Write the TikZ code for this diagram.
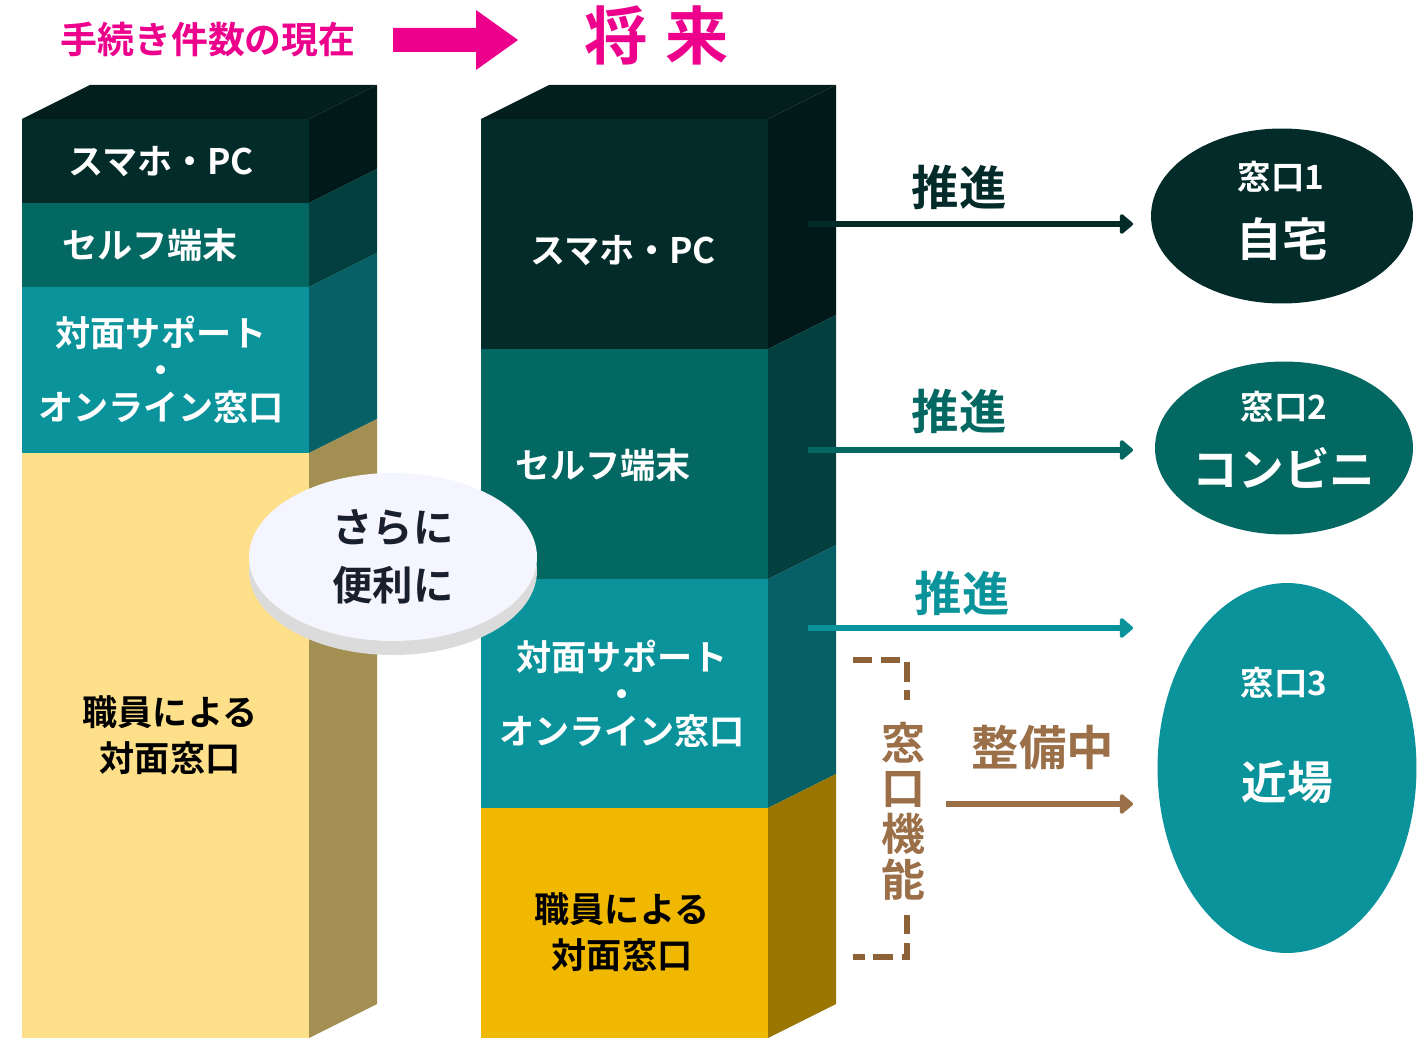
\documentclass[tikz,border=0pt]{standalone}
\usepackage{fontspec}
\setmainfont{Noto Sans CJK JP}[BoldFont={* Bold}]
\usetikzlibrary{arrows.meta,shapes.geometric}

\definecolor{dk}{HTML}{022B2A}
\definecolor{dkS}{HTML}{011918}
\definecolor{dkT}{HTML}{021F1E}
\definecolor{tl}{HTML}{036862}
\definecolor{tlS}{HTML}{023F3E}
\definecolor{tq}{HTML}{0B939B}
\definecolor{tqS}{HTML}{076066}
\definecolor{yl}{HTML}{FDE089}
\definecolor{ylS}{HTML}{A48F53}
\definecolor{gd}{HTML}{F1B800}
\definecolor{gdS}{HTML}{9A7600}
\definecolor{pk}{HTML}{EC008C}
\definecolor{brn}{HTML}{9B7048}
\definecolor{brk}{HTML}{8E6238}
\definecolor{navy}{HTML}{1A1F2E}

\begin{document}
\begin{tikzpicture}[x=0.02cm, y=-0.02cm,
    lbl/.style={text=white, align=center, font=\bfseries\fontsize{20}{21}\selectfont},
    lbltwo/.style={align=center, font=\bfseries\fontsize{20}{26}\selectfont},
    push/.style={draw=#1, line width=3pt, line join=round, -{Triangle[length=8pt, width=13pt, round]}},
    pushlbl/.style={text=#1, font=\bfseries\fontsize{27}{27}\selectfont},
    win/.style={ellipse, fill=#1, inner sep=0pt},
    winno/.style={text=white, font=\bfseries\fontsize{19}{19}\selectfont},
    winname/.style={text=white, font=\bfseries\fontsize{26}{26}\selectfont},
    brkt/.style={draw=brk, line width=3pt, dash pattern=on 11pt off 5pt}]
        \useasboundingbox (0,0) rectangle (1427,1051);

        % heading
        \node[text=pk, font=\bfseries\fontsize{21}{21}\selectfont] (now) at (208,40) {手続き件数の現在};
        \node[text=pk, font=\bfseries\fontsize{36}{36}\selectfont] (future) at (657,35) {将\hspace{10pt}来};
        \fill[pk] (393,28) -- (476,28) -- (476,10) -- (518,40) -- (476,70) -- (476,52) -- (393,52) -- cycle;

        % current bar
        \fill[dkT] (22,119) -- (90,85) -- (377,85) -- (309,119) -- cycle;
        \fill[dk] (22,119) rectangle (309,203);
        \fill[dkS] (309,119) -- (377,85) -- (377,169) -- (309,203) -- cycle;
        \fill[tl] (22,203) rectangle (309,287);
        \fill[tlS] (309,203) -- (377,169) -- (377,253) -- (309,287) -- cycle;
        \fill[tq] (22,287) rectangle (309,453);
        \fill[tqS] (309,287) -- (377,253) -- (377,419) -- (309,453) -- cycle;
        \fill[yl] (22,453) rectangle (309,1038);
        \fill[ylS] (309,453) -- (377,419) -- (377,1004) -- (309,1038) -- cycle;

        \node[lbl] (nowpc) at (161,162) {スマホ・PC};
        \node[lbl] (nowself) at (150,245) {セルフ端末};
        \node[lbl] (nowsup) at (161,370) {対面サポート\\・\\オンライン窓口};
        \node[lbltwo] (nowdesk) at (170,735) {職員による\\対面窓口};

        % future bar
        \fill[dkT] (481,119) -- (549,85) -- (836,85) -- (768,119) -- cycle;
        \fill[dk] (481,119) rectangle (768,349);
        \fill[dkS] (768,119) -- (836,85) -- (836,315) -- (768,349) -- cycle;
        \fill[tl] (481,349) rectangle (768,579);
        \fill[tlS] (768,349) -- (836,315) -- (836,545) -- (768,579) -- cycle;
        \fill[tq] (481,579) rectangle (768,808);
        \fill[tqS] (768,579) -- (836,545) -- (836,774) -- (768,808) -- cycle;
        \fill[gd] (481,808) rectangle (768,1038);
        \fill[gdS] (768,808) -- (836,774) -- (836,1004) -- (768,1038) -- cycle;

        \node[lbl] (futpc) at (623,251) {スマホ・PC};
        \node[lbl] (futself) at (603,465) {セルフ端末};
        \node[lbl] (futsup) at (622,694) {対面サポート\\・\\オンライン窓口};
        \node[lbltwo] (futdesk) at (622,932) {職員による\\対面窓口};

        % disc
        \fill[gray!28] (393,571) ellipse [x radius=144, y radius=84];
        \node[ellipse, fill=blue!4!white, minimum width=5.76cm, minimum height=3.36cm,
              inner sep=0pt, text=navy, align=center,
              font=\bfseries\fontsize{23}{33}\selectfont] (more) at (393,557) {さらに\\便利に};

        % windows
        \node[win=dk, minimum width=5.24cm, minimum height=3.5cm] (w1) at (1282,216) {};
        \node[winno] (w1no) at (1281,177) {窓口1};
        \node[winname] (w1name) at (1282,239) {自宅};
        \node[win=tl, minimum width=5.16cm, minimum height=3.46cm] (w2) at (1284,448) {};
        \node[winno] (w2no) at (1284,407) {窓口2};
        \node[winname] (w2name) at (1284,468) {コンビニ};
        \node[win=tq, minimum width=5.18cm, minimum height=7.4cm] (w3) at (1287,768) {};
        \node[winno] (w3no) at (1284,683) {窓口3};
        \node[winname] (w3name) at (1287,782) {近場};

        % arrows
        \coordinate (s1) at (808,224);
        \coordinate (e1) at (1133,224);
        \coordinate (s2) at (808,450);
        \coordinate (e2) at (1133,450);
        \coordinate (s3) at (808,628);
        \coordinate (e3) at (1133,628);
        \coordinate (s4) at (946,804);
        \coordinate (e4) at (1133,804);
        \draw[push=dk] (s1) -- (e1);
        \draw[push=tl] (s2) -- (e2);
        \draw[push=tq] (s3) -- (e3);
        \draw[push=brn] (s4) -- (e4);
        \node[pushlbl=dk] (p1) at (959,187) {推進};
        \node[pushlbl=tl] (p2) at (959,411) {推進};
        \node[pushlbl=tq] (p3) at (962,593) {推進};
        \node[pushlbl=brn] (prep) at (1043,748) {整備中};

        % bracket
        \coordinate (b1) at (853,660);
        \coordinate (b2) at (907,660);
        \coordinate (b3) at (907,700);
        \coordinate (b4) at (907,915);
        \coordinate (b5) at (907,957);
        \coordinate (b6) at (853,957);
        \draw[brkt] (b1) -- (b2) -- (b3);
        \draw[brkt] (b4) -- (b5) -- (b6);
        \node[text=brn, align=center, font=\bfseries\fontsize{25}{26}\selectfont] (func) at (903,811) {窓\\口\\機\\能};
    \end{tikzpicture}
\end{document}
